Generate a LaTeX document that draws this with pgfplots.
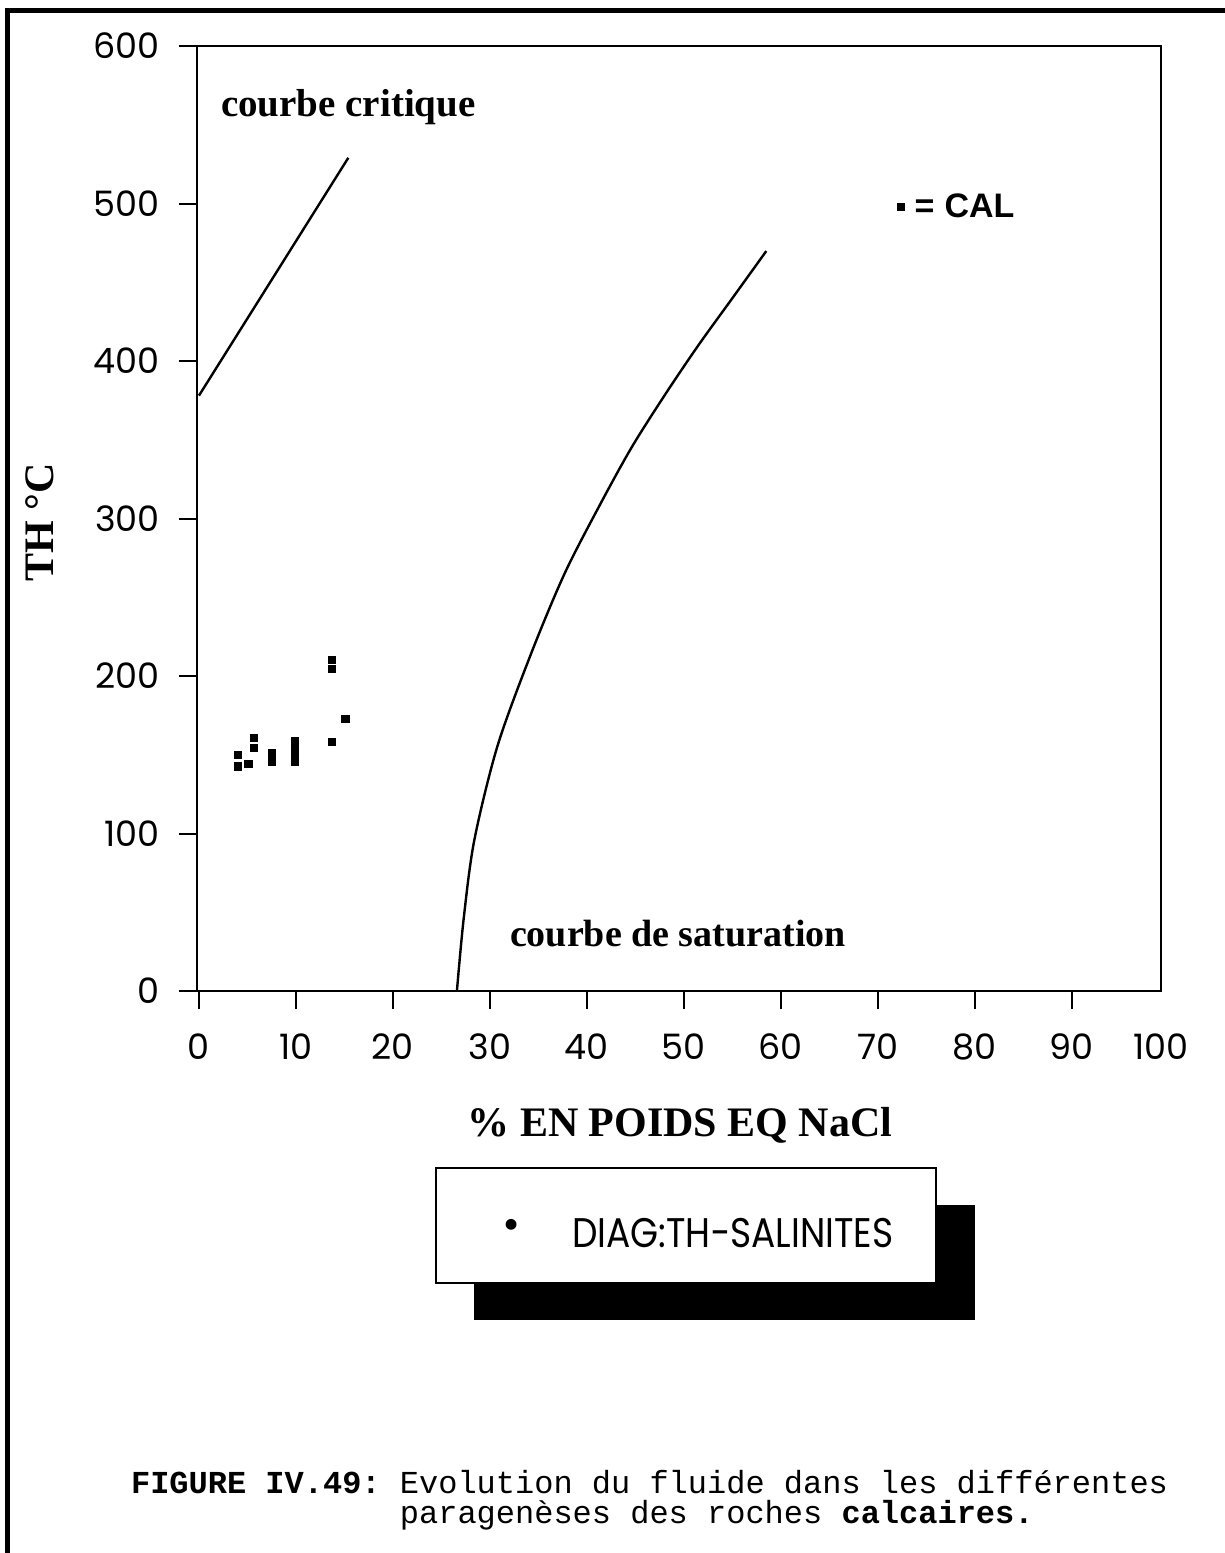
\documentclass[border=0pt]{standalone}
\usepackage{pgfplots}
\pgfplotsset{compat=1.18}
\usepackage{fontspec}
\setmainfont{Liberation Serif}
\setmonofont{Liberation Mono}
\newfontfamily\tickfont{Poppins}
\newfontfamily\labsans{Liberation Sans}

\begin{document}
\begin{tikzpicture}
\begin{axis}[
  scale only axis, width=482pt, height=472.5pt,
  xmin=-0.2, xmax=99.2, ymin=0, ymax=600,
  axis line style={line width=1pt},
  xtick={0,10,...,90}, ytick={0,100,...,600},
  extra x ticks={99.2}, extra x tick labels={100},
  extra x tick style={tick style={draw=none}},
  xtick pos=bottom, ytick pos=left,
  tick align=outside, major tick length=9pt,
  tick style={line width=1pt, black},
  ticklabel style={font=\tickfont\fontsize{17.5}{20}\selectfont},
  xticklabel style={yshift=-9pt},
  yticklabel style={xshift=-6pt},
  /pgf/number format/assume math mode=true,
  xlabel={\% EN POIDS EQ NaCl}, ylabel={TH °C},
  label style={font=\bfseries\fontsize{21}{25}\selectfont},
  xlabel style={at={(axis description cs:0.501,-0.142)}, anchor=center},
  ylabel style={at={(axis description cs:-0.163,0.496)}, anchor=center},
  legend style={draw=none, fill=none, at={(axis description cs:0.72,0.83)},
    anchor=west, font=\labsans\bfseries\fontsize{17}{20}\selectfont},
]
% courbe critique
\addplot[black, line width=1.2pt, forget plot] coordinates {(0,378) (15.4,529)};
% courbe de saturation
\addplot[black, line width=1.2pt, smooth, forget plot] coordinates {
 (26.6,0) (27.3,46) (28.4,96) (30.8,155.9) (34.3,215) (37.7,265)
 (41.2,307) (44.6,345) (48.1,379) (51.5,410) (54.9,439) (58.5,469.8)};
% inclusions CAL
\addplot[only marks, mark=square*, mark size=1.8pt, black] coordinates {
 (4,150) (4,142.6) (5.1,144.3) (5.7,160.6) (5.7,154.3) (7.5,151.1) (7.5,145.8)
 (9.9,158.5) (9.9,153.2) (9.9,147.9) (9.9,145.4)
 (13.7,210.4) (13.7,204.5) (13.7,158.1) (15.1,172.7)};
\addlegendentry{\hspace{3pt}=\hspace{5pt}CAL}
\end{axis}

\node[anchor=base west, font=\bfseries\fontsize{19.5}{23}\selectfont] at (8.5pt,437pt) {courbe critique};
\node[anchor=base west, font=\bfseries\fontsize{19}{23}\selectfont] at (153pt,22.5pt) {courbe de saturation};

% boite DIAG
\fill[black] (138.5pt,-107pt) rectangle (389pt,-164.5pt);
\draw[fill=white, line width=0.8pt] (119.5pt,-88.5pt) rectangle (369.5pt,-146pt);
\node[font=\tickfont\fontsize{22}{24}\selectfont] at (157.5pt,-119pt) {•};
\node[anchor=west, font=\tickfont\fontsize{18}{21}\selectfont] at (184pt,-121pt) {\scalebox{1}[1.15]{DIAG:TH−SALINITES}};

% legende de la figure
\node[anchor=base west, font=\ttfamily\fontsize{16}{19}\selectfont] at (-36.5pt,-251pt)
  {\textbf{FIGURE IV.49:} Evolution du fluide dans les différentes};
\node[anchor=base west, font=\ttfamily\fontsize{16}{19}\selectfont] at (-36.5pt,-266pt)
  {\phantom{FIGURE IV.49: }paragenèses des roches \textbf{calcaires.}};

% cadre
\draw[line width=2.5pt] (-94.75pt,-281pt) -- (-94.75pt,490.25pt) -- (514pt,490.25pt);

\pgfresetboundingbox
\path (-98.5pt,-281pt) rectangle (514pt,495.5pt);
\end{tikzpicture}
\end{document}
